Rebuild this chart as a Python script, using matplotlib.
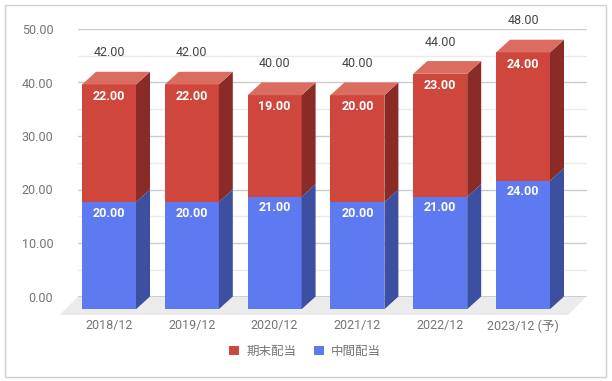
import numpy as np
import matplotlib
matplotlib.use("Agg")
import matplotlib.pyplot as plt
from matplotlib.patches import Polygon, Rectangle, Patch

plt.rcParams['font.family'] = ['Roboto', 'Noto Sans CJK JP', 'DejaVu Sans']

# data
years = ['2018/12', '2019/12', '2020/12', '2021/12', '2022/12', '2023/12 (予)']
interim = [20, 20, 21, 20, 21, 24]   # 中間配当
final = [22, 22, 19, 20, 23, 24]     # 期末配当
series_names = ['期末配当', '中間配当']

# colours (front, side, top)
red = ('#cf473c', '#8a2b27', '#db6c60')
blue = ('#5e7af0', '#3d4fa0', '#8196f3')

W, H = 612, 381
fig = plt.figure(figsize=(W / 100, H / 100), dpi=100)
ax = fig.add_axes([78 / W, (H - 296.5) / H, 508.5 / W, 267.5 / H])

px_x = 82.8     # px per category
px_y = 5.35     # px per unit
ax.set_xlim((78 - 123) / px_x, (586.5 - 123) / px_x)
ax.set_ylim(0, 50)

# 3d depth (bar front is shifted left/down from the grid plane)
ddx = 14 / px_x
ddy = 12.7 / px_y
fdx = 18.5 / px_x
fdy = 18.5 / px_y
bw = 54 / px_x

for s in ax.spines.values():
    s.set_visible(False)

# grid
for v in np.arange(5, 50, 10):
    ax.axhline(v, color='#ebebeb', lw=1, zorder=0)
for v in np.arange(10, 51, 10):
    ax.axhline(v, color='#cccccc', lw=1, zorder=0.5)

# floor
x0, x1 = ax.get_xlim()
ax.add_patch(Polygon([(x0, 0), (x1, 0), (x1 - fdx, -fdy), (x0 - fdx, -fdy)],
                     closed=True, fc='#ebebeb', ec='none', zorder=0.2, clip_on=False))
ax.axhline(0, color='#333333', lw=1, zorder=1)


def box(xc, y0, y1, cols, top):
    # front face at xc (front centre), shifted down by ddy
    l, r = xc - bw / 2, xc + bw / 2
    fb, ft = y0 - ddy, y1 - ddy
    ax.add_patch(Polygon([(l, fb), (r, fb), (r, ft), (l, ft)], closed=True,
                         fc=cols[0], ec='none', zorder=3, clip_on=False))
    ax.add_patch(Polygon([(r, fb), (r + ddx, y0), (r + ddx, y1), (r, ft)], closed=True,
                         fc=cols[1], ec='none', zorder=3, clip_on=False))
    if top:
        ax.add_patch(Polygon([(l, ft), (r, ft), (r + ddx, y1), (l + ddx, y1)], closed=True,
                             fc=cols[2], ec='none', zorder=3, clip_on=False))


for i in range(len(years)):
    xc = i - ddx
    a, b = interim[i], final[i]
    box(xc, 0, a, blue, False)
    box(xc, a, a + b, red, True)
    ax.annotate('%.2f' % a, (xc, a - ddy), xytext=(0, -8), textcoords='offset points',
                ha='center', va='center', color='white', fontsize=9, fontweight='bold', zorder=5)
    ax.annotate('%.2f' % b, (xc, a + b - ddy), xytext=(0, -8.4), textcoords='offset points',
                ha='center', va='center', color='white', fontsize=9, fontweight='bold', zorder=5)
    ax.annotate('%.2f' % (a + b), (xc, a + b), xytext=(0, 13.7), textcoords='offset points',
                ha='center', va='center', color='#444444', fontsize=9, zorder=5)

ax.set_yticks(np.arange(0, 51, 10))
ax.set_yticklabels(['%.2f' % v for v in np.arange(0, 51, 10)])
ax.set_xticks([i - ddx for i in range(len(years))])
ax.set_xticklabels(years)
ax.tick_params(axis='y', length=0, pad=17.8, labelsize=9, labelcolor='#757575')
ax.tick_params(axis='x', length=0, pad=16.5, labelsize=9, labelcolor='#757575')

handles = [Patch(fc=red[0], ec='none'), Patch(fc=blue[0], ec='none')]
fig.legend(handles, series_names, loc='center', bbox_to_anchor=(305 / W, 1 - 351.5 / H),
           ncol=2, frameon=False, fontsize=9, handlelength=0.8, handleheight=0.8,
           handletextpad=0.6, columnspacing=1.4, labelcolor='#757575')

fig.patches.append(Rectangle((4.5 / W, 4.5 / H), 601 / W, 372 / H, transform=fig.transFigure,
                             fill=False, ec='#d0d0d0', lw=1))

fig.savefig('out.png', dpi=100)
